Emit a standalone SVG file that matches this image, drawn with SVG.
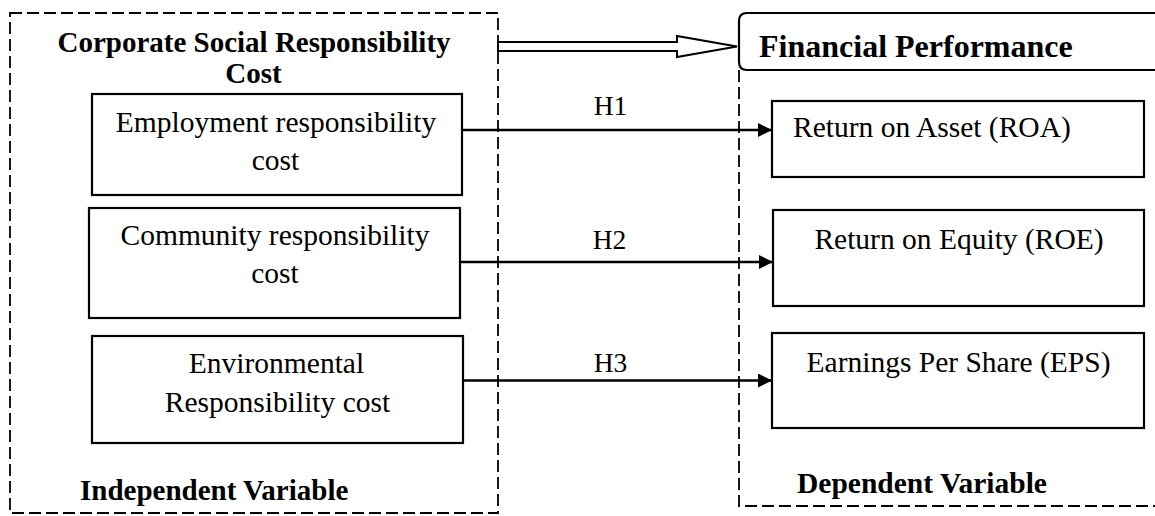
<svg xmlns="http://www.w3.org/2000/svg" width="1155" height="516" viewBox="0 0 1155 516">
<style>
.frame{fill:none;stroke:#000;stroke-width:1.8;stroke-dasharray:12 5}
.box{fill:#fff;stroke:#000;stroke-width:2.2}
.ln{stroke:#000;stroke-width:2.4;fill:none}
</style>
<defs>
<marker id="ah2" viewBox="0 0 14 14" refX="14" refY="7" markerWidth="14" markerHeight="14" markerUnits="userSpaceOnUse" orient="auto">
<path d="M0,0 L14,7 L0,14 Z" fill="#000"/>
</marker>
</defs>
<rect width="1155" height="516" fill="#fff"/>
<g id="independent-frame" font-family="Liberation Serif" font-size="29" font-weight="bold">
<rect class="frame" x="10" y="13" width="488" height="500"/>
<text x="254" y="52" text-anchor="middle">Corporate Social Responsibility</text>
<text x="253.5" y="83" text-anchor="middle">Cost</text>
<text x="80" y="500">Independent Variable</text>
</g>
<g id="dependent-frame" font-family="Liberation Serif" font-size="29" font-weight="bold">
<path class="frame" d="M739,70 V506 H1160"/>
<path d="M1160,13 H747 Q739,13 739,21 V62 Q739,70 747,70 H1160" fill="#fff" stroke="#000" stroke-width="2.2"/>
<text x="759" y="57" font-size="32">Financial Performance</text>
<text x="797" y="493" font-size="29.5">Dependent Variable</text>
</g>
<g id="employment" font-family="Liberation Serif" font-size="29.5" text-anchor="middle">
<rect class="box" x="92" y="94" width="370" height="101"/>
<text x="276" y="132">Employment responsibility</text>
<text x="275.5" y="170">cost</text>
</g>
<g id="community" font-family="Liberation Serif" font-size="29.5" text-anchor="middle">
<rect class="box" x="89" y="208" width="371" height="110"/>
<text x="275" y="245">Community responsibility</text>
<text x="275" y="283">cost</text>
</g>
<g id="environmental" font-family="Liberation Serif" font-size="29.5" text-anchor="middle">
<rect class="box" x="92" y="336" width="371" height="107"/>
<text x="276.5" y="373">Environmental</text>
<text x="277.5" y="412">Responsibility cost</text>
</g>
<g id="roa" font-family="Liberation Serif" font-size="29.5">
<rect class="box" x="772" y="101" width="372" height="76"/>
<text x="793" y="137">Return on Asset (ROA)</text>
</g>
<g id="roe" font-family="Liberation Serif" font-size="29.5" text-anchor="middle">
<rect class="box" x="773" y="210" width="371" height="96"/>
<text x="959" y="249">Return on Equity (ROE)</text>
</g>
<g id="eps" font-family="Liberation Serif" font-size="29.5" text-anchor="middle">
<rect class="box" x="772" y="333" width="372" height="95"/>
<text x="958.5" y="372">Earnings Per Share (EPS)</text>
</g>
<g id="connectors" font-family="Liberation Serif" font-size="27.5" text-anchor="middle">
<polygon points="498,42 677,42 677,36 737,46.5 677,57 677,51 498,51" fill="#fff" stroke="#000" stroke-width="2"/>
<line class="ln" x1="462" y1="130" x2="772" y2="130" marker-end="url(#ah2)"/>
<line class="ln" x1="460" y1="262" x2="773" y2="262" marker-end="url(#ah2)"/>
<line class="ln" x1="463" y1="380.5" x2="772" y2="380.5" marker-end="url(#ah2)"/>
<text x="610.5" y="115">H1</text>
<text x="609.5" y="249">H2</text>
<text x="610.5" y="372">H3</text>
</g>
</svg>
